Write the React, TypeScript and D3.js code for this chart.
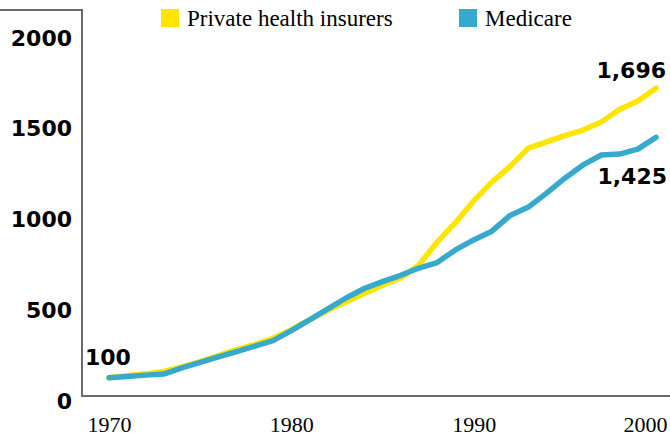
import React, {useEffect, useRef} from "react";
import {axisBottom, axisLeft, line, scaleLinear, select} from "d3";

// index values, 1970 = 100
const years = [
    1970, 1971, 1972, 1973, 1974, 1975, 1976, 1977, 1978, 1979,
    1980, 1981, 1982, 1983, 1984, 1985, 1986, 1987, 1988, 1989,
    1990, 1991, 1992, 1993, 1994, 1995, 1996, 1997, 1998, 1999, 2000
];
const privateInsurers = [
    100, 112, 122, 135, 160, 190, 222, 255, 285, 318,
    365, 420, 472, 518, 565, 610, 650, 722, 848, 955,
    1075, 1178, 1265, 1366, 1400, 1435, 1465, 1510, 1578, 1625, 1696
];
const medicare = [
    100, 108, 115, 121, 155, 185, 215, 245, 275, 305,
    360, 420, 480, 540, 592, 630, 665, 705, 735, 805,
    860, 908, 995, 1041, 1118, 1200, 1273, 1328, 1333, 1360, 1425
];
const yTicks = [0, 500, 1000, 1500, 2000];
const xTicks = [1970, 1980, 1990, 2000];
const seriesNames = ["Private health insurers", "Medicare"];
const colors = ["#ffe500", "#36a9cd"];

const fmt = (v: number) => v.toLocaleString("en-US");

function App() {
    const svgRef = useRef<SVGSVGElement>(null);

    useEffect(() => {
        const svg = select(svgRef.current);
        svg.selectAll("*").remove();

        const width = 670;
        const axisX = 82;
        const topY = 10;

        const x = scaleLinear().domain([1970, 2000]).range([109, 656]);
        const y = scaleLinear().domain([0, 2000]).range([396, 33]);

        // frame: top stub + left axis + bottom axis
        svg.append("path")
            .attr("d", `M0,${topY}H${axisX}V${y(0)}H${width}`)
            .attr("fill", "none")
            .attr("stroke", "#6b6b6b")
            .attr("stroke-width", 2);

        // y axis labels
        const yAxis = svg.append("g")
            .attr("transform", `translate(${axisX},0)`)
            .call(axisLeft(y).tickValues(yTicks).tickSize(0).tickPadding(10).tickFormat(d => String(d)));
        yAxis.select(".domain").remove();
        yAxis.selectAll("text")
            .attr("dy", "0.55em")
            .attr("font-family", "DejaVu Sans, sans-serif")
            .attr("font-weight", "bold")
            .attr("font-size", 22)
            .attr("fill", "#000");

        // x axis labels
        const xAxis = svg.append("g")
            .attr("transform", `translate(0,${y(0)})`)
            .call(axisBottom(x).tickValues(xTicks).tickSize(0).tickPadding(20).tickFormat(d => String(d)));
        xAxis.select(".domain").remove();
        xAxis.selectAll("text")
            .attr("font-family", "Liberation Serif, Times New Roman, serif")
            .attr("font-size", 22)
            .attr("fill", "#000");
        // keep last label inside the frame
        xAxis.selectAll(".tick:last-of-type text")
            .attr("text-anchor", "end")
            .attr("dx", 11);

        const lineGen = line<number>()
            .x((d, i) => x(years[i]))
            .y(d => y(d));

        [privateInsurers, medicare].forEach((series, i) => {
            svg.append("path")
                .datum(series)
                .attr("d", lineGen)
                .attr("fill", "none")
                .attr("stroke", colors[i])
                .attr("stroke-width", 5.5)
                .attr("stroke-linecap", "round")
                .attr("stroke-linejoin", "round");
        });

        // value labels
        const labelStyle = (sel: any) => sel
            .attr("font-family", "DejaVu Sans, sans-serif")
            .attr("font-weight", "bold")
            .attr("font-size", 22)
            .attr("fill", "#000");

        const last = years.length - 1;
        svg.append("text")
            .attr("x", x(years[0]) - 24)
            .attr("y", y(medicare[0]) - 13)
            .text(fmt(medicare[0]))
            .call(labelStyle);
        svg.append("text")
            .attr("x", x(years[last]) + 10)
            .attr("y", y(privateInsurers[last]) - 10)
            .attr("text-anchor", "end")
            .text(fmt(privateInsurers[last]))
            .call(labelStyle);
        svg.append("text")
            .attr("x", x(years[last]) + 11)
            .attr("y", y(medicare[last]) + 47)
            .attr("text-anchor", "end")
            .text(fmt(medicare[last]))
            .call(labelStyle);

        // legend
        const legendX = [161, 459];
        const legend = svg.append("g")
            .selectAll("g")
            .data(seriesNames)
            .join("g")
            .attr("transform", (d, i) => `translate(${legendX[i]},9)`);
        legend.append("rect")
            .attr("width", 18)
            .attr("height", 18)
            .attr("fill", (d, i) => colors[i]);
        legend.append("text")
            .attr("x", 26)
            .attr("y", 17)
            .text(d => d)
            .attr("font-family", "Liberation Serif, Times New Roman, serif")
            .attr("font-size", 23)
            .attr("fill", "#000");
    }, []);

    return (
        <svg ref={svgRef} width={670} height={437}
             style={{position: "absolute", left: 0, top: 0, background: "#fff"}}/>
    );
}

export default App;
